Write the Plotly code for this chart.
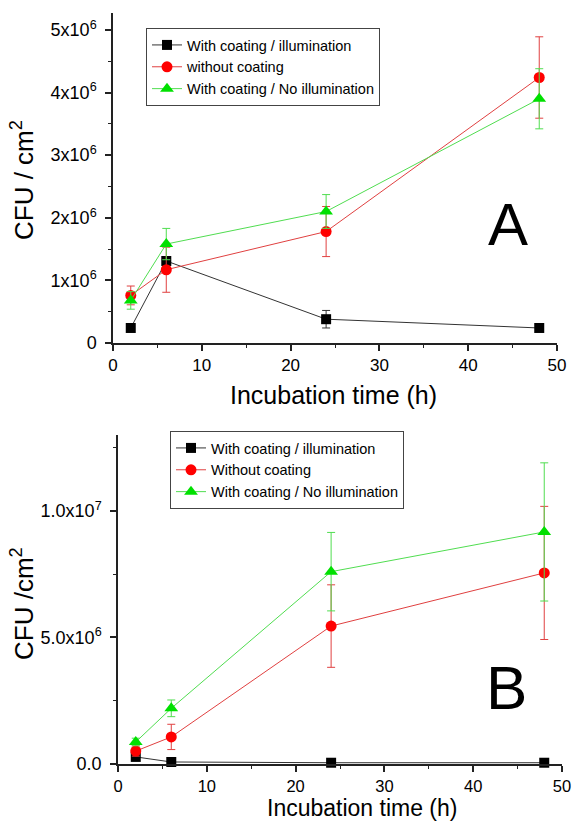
import plotly.graph_objects as go

# Incubation times (h)
hours = [2, 6, 24, 48]

# Panel A: CFU / cm^2 (mean and error)
a_illum = [0.24e6, 1.31e6, 0.38e6, 0.24e6]
a_illum_err = [0.02e6, 0.02e6, 0.14e6, 0.03e6]
a_nocoat = [0.76e6, 1.17e6, 1.78e6, 4.24e6]
a_nocoat_err = [0.15e6, 0.36e6, 0.40e6, 0.65e6]
a_dark = [0.68e6, 1.58e6, 2.10e6, 3.90e6]
a_dark_err = [0.14e6, 0.25e6, 0.27e6, 0.48e6]

# Panel B: CFU / cm^2 (mean and error)
b_illum = [0.28e6, 0.08e6, 0.05e6, 0.05e6]
b_illum_err = [0.02e6, 0.02e6, 0.02e6, 0.02e6]
b_nocoat = [0.51e6, 1.07e6, 5.45e6, 7.55e6]
b_nocoat_err = [0.20e6, 0.50e6, 1.63e6, 2.63e6]
b_dark = [0.87e6, 2.20e6, 7.60e6, 9.17e6]
b_dark_err = [0.15e6, 0.33e6, 1.55e6, 2.73e6]

# Series names
names_a = ["With coating / illumination", "without coating", "With coating / No illumination"]
names_b = ["With coating / illumination", "Without coating", "With coating / No illumination"]

# Tick labels
x_ticks = [0, 10, 20, 30, 40, 50]
a_yticks = [0, 1e6, 2e6, 3e6, 4e6, 5e6]
a_yticktext = ["0", "1x10<sup>6</sup>", "2x10<sup>6</sup>", "3x10<sup>6</sup>",
               "4x10<sup>6</sup>", "5x10<sup>6</sup>"]
b_yticks = [0, 5e6, 1e7]
b_yticktext = ["0.0", "5.0x10<sup>6</sup>", "1.0x10<sup>7</sup>"]

W, H = 574, 821
FONT = "Liberation Sans, Arial, sans-serif"

styles = [
    dict(color="#000000", line="#333333", symbol="square", size=10),
    dict(color="#ff0000", line="#e04040", symbol="circle", size=11),
    dict(color="#00e000", line="#50dd50", symbol="triangle-up", size=12),
]

fig = go.Figure()


def add_series(xa, ya, legend, names, values, errors):
    for st, name, y, e in zip(styles, names, values, errors):
        fig.add_trace(go.Scatter(
            x=hours, y=y, name=name, mode="lines+markers",
            xaxis=xa, yaxis=ya, legend=legend,
            line=dict(color=st["line"], width=1),
            marker=dict(color=st["color"], symbol=st["symbol"], size=st["size"],
                        line=dict(width=0)),
            error_y=dict(type="data", array=e, visible=True,
                         color=st["line"], thickness=1, width=4),
            cliponaxis=False,
        ))


add_series("x", "y", "legend", names_a,
           [a_illum, a_nocoat, a_dark], [a_illum_err, a_nocoat_err, a_dark_err])
add_series("x2", "y2", "legend2", names_b,
           [b_illum, b_nocoat, b_dark], [b_illum_err, b_nocoat_err, b_dark_err])


def px_x(p):
    return p / W


def px_y(p):
    return 1 - p / H


axis_common = dict(
    showline=True, linecolor="#222222", linewidth=1.5, mirror=False,
    showgrid=False, zeroline=False, ticks="outside", ticklen=6,
    tickwidth=1.5, tickcolor="#222222", automargin=False,
)
xfont = dict(family=FONT, size=17, color="#000000")
x2font = dict(family=FONT, size=16.5, color="#000000")
yfont = dict(family=FONT, size=18, color="#000000")
minor_common = dict(ticklen=3, ticks="outside", tickcolor="#222222", tickwidth=1.2)

fig.update_layout(
    width=W, height=H,
    margin=dict(l=0, r=0, t=0, b=0, autoexpand=False),
    paper_bgcolor="white", plot_bgcolor="white",
    font=dict(family=FONT, color="#000000"),
    xaxis=dict(domain=[px_x(113), px_x(557)], range=[0, 50], anchor="y",
               tickvals=x_ticks, ticklabelstandoff=0, tickfont=xfont,
               minor=dict(dtick=5, **minor_common), **axis_common),
    yaxis=dict(domain=[px_y(343), px_y(13)], range=[0, 5.27e6], anchor="x",
               tickvals=a_yticks, ticktext=a_yticktext, ticklabelstandoff=5,
               tickfont=yfont,
               minor=dict(dtick=0.5e6, **minor_common), **axis_common),
    xaxis2=dict(domain=[px_x(118), px_x(562)], range=[0, 50], anchor="y2",
                tickvals=x_ticks, ticklabelstandoff=0, tickfont=x2font,
                minor=dict(dtick=5, **minor_common), **axis_common),
    yaxis2=dict(domain=[px_y(764), px_y(435)], range=[0, 1.3e7], anchor="x2",
                tickvals=b_yticks, ticktext=b_yticktext, ticklabelstandoff=5,
                tickfont=yfont,
                minor=dict(dtick=2.5e6, **minor_common), **axis_common),
    legend=dict(x=px_x(146), y=px_y(28), xanchor="left", yanchor="top",
                bordercolor="#444444", borderwidth=1, bgcolor="white",
                font=dict(family=FONT, size=14.5), tracegroupgap=0),
    legend2=dict(x=px_x(170), y=px_y(431), xanchor="left", yanchor="top",
                 bordercolor="#444444", borderwidth=1, bgcolor="white",
                 font=dict(family=FONT, size=14.5), tracegroupgap=0),
)

# Axis titles and panel letters
texts = [
    ("Incubation time (h)", 333, 395, 25, 0),
    ("Incubation time (h)", 362, 808, 23, 0),
    ("CFU / cm<sup>2</sup>", 22, 180, 26, -90),
    ("CFU /cm<sup>2</sup>", 22, 604, 26, -90),
    ("A", 508, 225, 60, 0),
    ("B", 506, 687, 62, 0),
]
for txt, x, y, size, ang in texts:
    fig.add_annotation(text=txt, x=px_x(x), y=px_y(y), xref="paper", yref="paper",
                       xanchor="center", yanchor="middle", showarrow=False,
                       textangle=ang, font=dict(family=FONT, size=size, color="#000000"))

fig.write_html("out.html")
